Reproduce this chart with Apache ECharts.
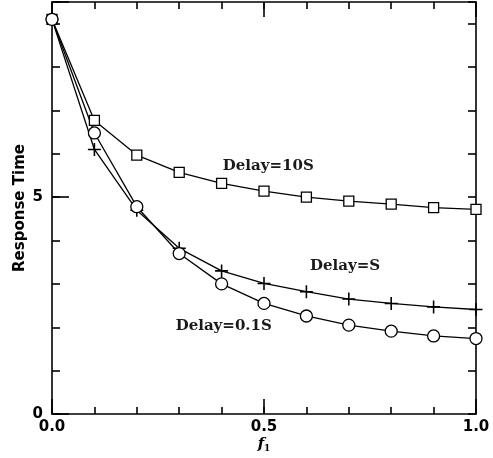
<!DOCTYPE html>
<html lang="en">

<head>
    <meta charset="UTF-8">
    <title>Response Time</title>
    <style>
        * {
            margin: 0;
            padding: 0;
        }

        #myEcharts {
            width: 493px;
            height: 458px;
            background: #fff;
        }
    </style>
</head>

<body>
    <div id="myEcharts"></div>
    <script src="https://cdn.jsdelivr.net/npm/echarts@6/dist/echarts.min.js"></script>
    <script>
        // f1 values (x axis)
        var f1 = [0.0, 0.1, 0.2, 0.3, 0.4, 0.5, 0.6, 0.7, 0.8, 0.9, 1.0];
        // response time per delay
        var delay10S = [9.1, 6.77, 5.97, 5.57, 5.32, 5.14, 5.0, 4.91, 4.84, 4.76, 4.72];
        var delayS = [9.1, 6.1, 4.70, 3.82, 3.30, 3.01, 2.82, 2.65, 2.55, 2.47, 2.41];
        var delay01S = [9.1, 6.48, 4.78, 3.70, 3.0, 2.55, 2.26, 2.05, 1.91, 1.80, 1.74];
        var seriesNames = ['Delay=10S', 'Delay=S', 'Delay=0.1S'];
        // where the curve names are written (data coords)
        var labelX = [0.51, 0.691, 0.405];
        var labelY = [5.72, 3.41, 2.03];
        var xTickLabels = ['0.0', '0.5', '1.0'];
        var yTickLabels = ['0', '5'];

        var plusPath = 'path://M-1,-0.12H-0.12V-1H0.12V-0.12H1V0.12H0.12V1H-0.12V0.12H-1Z';

        var pair = function (ys) {
            var res = [];
            for (var i = 0; i < f1.length; i++) {
                res.push([f1[i], ys[i]]);
            }
            return res;
        };

        var tickFont = {
            fontFamily: 'DejaVu Sans',
            fontWeight: 'bold',
            fontSize: 15,
            color: '#000'
        };
        var black = { color: '#000', width: 1.6 };

        var makeSeries = function (idx, ys, symbol, size) {
            return {
                name: seriesNames[idx],
                type: 'line',
                data: pair(ys),
                symbol: symbol,
                symbolSize: size,
                showAllSymbol: true,
                clip: false,
                lineStyle: { color: '#000', width: 1.3 },
                itemStyle: symbol === plusPath ?
                    { color: '#000', borderWidth: 0 } :
                    { color: '#fff', borderColor: '#000', borderWidth: 1.3 },
                markPoint: {
                    symbol: 'circle',
                    symbolSize: 1,
                    silent: true,
                    itemStyle: { color: 'transparent' },
                    data: [{
                        coord: [labelX[idx], labelY[idx]],
                        label: {
                            show: true,
                            position: 'inside',
                            formatter: seriesNames[idx],
                            fontFamily: 'DejaVu Serif',
                            fontWeight: 'bold',
                            fontSize: 15,
                            color: '#1a1a1a'
                        }
                    }]
                }
            };
        };

        // plain axis used only for extra tick marks / frame sides
        var frameAxis = function (pos, max, interval, len, showLine) {
            return {
                type: 'value', min: 0, max: max, interval: interval,
                position: pos,
                axisLine: { show: showLine, onZero: false, lineStyle: black },
                axisTick: { inside: true, length: len, lineStyle: black },
                axisLabel: { show: false },
                splitLine: { show: false }
            };
        };

        var myEcharts = echarts.init(document.getElementById('myEcharts'), null, { renderer: 'canvas' });

        var option = {
            animation: false,
            grid: { left: 52, right: 17, top: 2, bottom: 44, outerBoundsMode: 'none' },
            xAxis: [
                {
                    type: 'value', min: 0, max: 1, interval: 0.1,
                    position: 'bottom',
                    axisLine: { onZero: false, lineStyle: black },
                    axisTick: { inside: true, length: 7, lineStyle: black },
                    splitLine: { show: false },
                    axisLabel: Object.assign({
                        margin: 6,
                        formatter: function (v) {
                            var k = Math.round(v * 2);
                            return Math.abs(v * 2 - k) < 1e-6 ? xTickLabels[k] : '';
                        }
                    }, tickFont),
                    name: '{f|f}{s|1}',
                    nameLocation: 'middle',
                    nameGap: 22,
                    nameMoveOverlap: false,
                    nameTextStyle: {
                        rich: {
                            f: { fontFamily: 'DejaVu Serif', fontStyle: 'italic', fontWeight: 'bold', fontSize: 15, color: '#000' },
                            s: { fontFamily: 'DejaVu Serif', fontWeight: 'bold', fontSize: 9, color: '#000', verticalAlign: 'bottom', padding: [8, 0, 0, 0] }
                        }
                    }
                },
                frameAxis('bottom', 1, 0.5, 15, false),
                frameAxis('top', 1, 0.1, 7, true),
                frameAxis('top', 1, 0.5, 15, false)
            ],
            yAxis: [
                {
                    type: 'value', min: 0, max: 9.5, interval: 1,
                    position: 'left',
                    axisLine: { onZero: false, lineStyle: black },
                    axisTick: { inside: true, length: 8, lineStyle: black },
                    splitLine: { show: false },
                    axisLabel: Object.assign({
                        margin: 9,
                        formatter: function (v) {
                            return v === 0 ? yTickLabels[0] : (v === 5 ? yTickLabels[1] : '');
                        }
                    }, tickFont),
                    name: 'Response Time',
                    nameLocation: 'middle',
                    nameGap: 24,
                    nameMoveOverlap: false,
                    nameTextStyle: {
                        fontFamily: 'DejaVu Sans',
                        fontWeight: 'bold',
                        fontSize: 15,
                        color: '#000'
                    }
                },
                frameAxis('left', 9.5, 5, 17, false),
                frameAxis('right', 9.5, 1, 8, true)
            ],
            series: [
                makeSeries(0, delay10S, 'rect', 10),
                makeSeries(1, delayS, plusPath, 13),
                makeSeries(2, delay01S, 'circle', 12)
            ]
        };

        myEcharts.setOption(option);
    </script>
</body>

</html>
